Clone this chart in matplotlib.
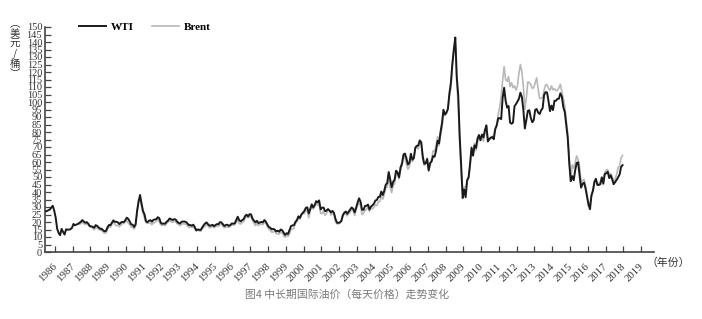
import numpy as np
import pandas as pd
import matplotlib
matplotlib.use('Agg')
import matplotlib.pyplot as plt
from matplotlib.transforms import ScaledTranslation

plt.rcParams['font.family'] = ['Liberation Serif', 'Noto Sans CJK SC']

# monthly prices, USD/barrel
wti_start = '1985-06'
wti = [
    27.1, 27.3, 27.8, 28.3, 29.6, 30.8, 27.6,
    22.9, 15.5, 12.6, 11.2, 15.4, 13.4, 11.6, 15.1, 14.9, 14.9, 15.2, 16.1,
    18.7, 17.8, 18.3, 18.7, 19.4, 20.1, 21.3, 20.3, 19.5, 19.9, 18.9, 17.3,
    17.1, 16.8, 16.2, 17.9, 17.4, 16.5, 15.5, 15.5, 14.5, 13.8, 14.1, 16.4,
    18.0, 17.9, 19.5, 21.1, 20.1, 20.1, 19.8, 18.6, 19.6, 20.1, 19.9, 21.1,
    22.9, 22.1, 20.4, 18.4, 18.2, 16.7, 18.5, 27.3, 33.5, 38.0, 32.3, 27.3,
    25.2, 20.5, 19.9, 20.8, 21.2, 20.2, 21.4, 21.7, 21.9, 23.2, 22.5, 19.5,
    18.8, 19.0, 18.9, 20.2, 21.0, 22.4, 21.8, 21.3, 21.9, 21.7, 20.3, 19.4,
    19.0, 20.1, 20.3, 20.3, 20.0, 19.1, 17.9, 18.0, 17.5, 18.2, 16.6, 14.5,
    15.0, 14.8, 14.7, 16.4, 17.9, 19.1, 19.7, 18.4, 17.5, 17.7, 18.1, 17.2,
    18.0, 18.6, 18.5, 19.9, 19.7, 18.5, 17.3, 18.0, 18.2, 17.4, 18.0, 19.0,
    18.9, 19.1, 21.3, 23.5, 21.2, 20.4, 21.3, 21.9, 24.0, 24.9, 23.7, 25.2,
    25.1, 22.2, 21.0, 19.7, 20.8, 19.3, 19.7, 20.0, 19.8, 21.3, 20.2, 18.3,
    16.7, 16.1, 15.1, 15.4, 14.9, 13.7, 14.2, 13.5, 15.0, 14.5, 13.0, 11.4,
    12.5, 12.0, 14.7, 17.3, 17.7, 17.9, 20.1, 21.3, 23.8, 22.7, 25.0, 26.1,
    27.3, 29.4, 29.8, 25.7, 28.8, 31.8, 29.7, 31.3, 33.9, 33.1, 34.4, 28.4,
    29.6, 29.6, 27.3, 27.5, 28.6, 27.6, 26.4, 27.4, 26.2, 22.2, 19.6, 19.4,
    19.7, 20.7, 24.5, 26.2, 27.0, 25.5, 27.0, 28.4, 29.7, 28.8, 26.4, 29.5,
    33.0, 35.8, 33.5, 28.2, 28.1, 30.7, 30.8, 31.6, 28.3, 30.3, 31.1, 32.1,
    34.3, 34.7, 36.7, 36.8, 40.3, 38.0, 40.8, 44.9, 45.9, 53.3, 48.5, 43.2,
    46.8, 48.2, 54.2, 53.0, 49.8, 56.4, 59.0, 65.0, 65.6, 62.3, 58.3, 59.4,
    65.5, 61.6, 62.7, 69.4, 70.8, 71.0, 74.4, 73.0, 63.8, 58.9, 59.1, 62.0,
    54.5, 59.3, 60.4, 64.0, 63.5, 67.5, 74.1, 72.4, 79.9, 85.8, 94.8, 91.7,
    93.0, 95.4, 105.5, 112.6, 125.4, 135.0, 143.0, 116.7, 104.1, 76.6, 57.3, 36.0,
    41.7, 36.5, 47.9, 49.7, 59.0, 69.6, 64.2, 71.1, 69.4, 75.7, 78.0, 74.5,
    78.3, 76.4, 81.2, 84.3, 73.7, 75.3, 76.3, 76.6, 75.2, 81.9, 84.3, 89.2,
    89.2, 88.6, 102.9, 109.5, 100.9, 96.3, 97.3, 86.3, 85.5, 86.3, 97.2, 98.6,
    100.3, 102.2, 106.2, 103.3, 94.7, 82.3, 87.9, 94.1, 94.5, 89.5, 86.5, 87.9,
    94.8, 95.3, 92.9, 92.0, 94.5, 95.8, 104.7, 106.6, 106.3, 100.5, 93.9, 97.6,
    94.6, 100.8, 100.8, 102.1, 102.2, 105.8, 103.6, 96.5, 93.2, 84.4, 75.8, 59.3,
    47.2, 50.6, 47.8, 54.5, 59.3, 59.8, 50.9, 42.9, 45.5, 46.2, 42.4, 37.2,
    31.7, 28.5, 37.6, 40.8, 46.7, 48.8, 44.7, 44.7, 45.2, 49.8, 45.7, 52.0,
    52.5, 53.5, 49.3, 51.1, 48.5, 45.2, 46.6, 48.0, 49.8, 51.6, 56.6, 57.9,
]

brent_start = '1987-05'
brent = [
    18.6, 18.9, 19.9, 19.0, 18.3, 18.8, 18.3, 16.8,
    16.8, 15.8, 14.9, 16.2, 16.0, 15.2, 14.6, 14.7, 13.4, 12.5, 12.8, 15.1,
    17.0, 16.5, 18.4, 20.3, 18.5, 17.5, 17.9, 16.9, 17.9, 19.1, 18.9, 20.0,
    20.9, 19.2, 18.3, 16.6, 16.5, 15.4, 17.2, 26.4, 35.0, 36.0, 30.8, 25.8,
    22.8, 19.5, 19.1, 19.2, 19.2, 18.2, 19.5, 19.6, 20.6, 21.9, 20.2, 18.1,
    17.7, 17.9, 17.7, 19.2, 20.0, 21.2, 20.1, 19.8, 20.3, 20.2, 19.0, 18.4,
    17.5, 18.5, 18.8, 18.7, 18.5, 17.5, 16.4, 16.9, 16.3, 16.8, 15.2, 13.8,
    15.1, 14.1, 13.8, 15.6, 16.4, 17.3, 18.3, 17.3, 16.1, 16.6, 17.3, 16.2,
    16.9, 17.2, 17.1, 18.5, 18.2, 17.1, 16.2, 16.5, 16.7, 16.4, 17.1, 18.0,
    18.0, 18.2, 19.9, 21.0, 18.9, 18.7, 19.6, 20.2, 22.7, 23.7, 22.8, 23.5,
    23.6, 20.8, 19.1, 17.6, 19.0, 17.6, 18.5, 18.6, 18.2, 20.1, 19.2, 17.1,
    15.3, 14.5, 13.2, 13.3, 14.3, 12.2, 12.1, 11.9, 13.3, 12.7, 11.0, 9.8,
    11.1, 10.3, 12.5, 15.3, 15.2, 15.9, 19.1, 20.2, 22.5, 22.0, 24.6, 25.5,
    25.5, 27.8, 27.5, 22.8, 27.7, 29.8, 28.7, 30.2, 33.1, 31.0, 32.6, 25.7,
    25.6, 27.5, 24.5, 25.7, 28.3, 27.9, 24.6, 25.7, 25.6, 20.5, 18.8, 18.7,
    19.4, 20.3, 23.7, 25.7, 25.4, 24.1, 25.7, 26.7, 28.4, 27.5, 24.3, 28.3,
    31.2, 32.8, 30.6, 25.0, 25.9, 27.7, 28.4, 29.9, 27.1, 29.6, 28.8, 29.8,
    31.3, 30.9, 33.6, 33.6, 37.6, 35.2, 38.2, 42.7, 43.2, 49.8, 43.1, 39.6,
    44.5, 45.5, 53.1, 51.9, 48.7, 54.4, 57.5, 64.0, 62.9, 58.5, 55.2, 56.9,
    63.0, 60.2, 62.1, 70.3, 69.8, 68.6, 73.7, 73.2, 62.0, 57.8, 58.8, 62.5,
    53.7, 57.6, 62.1, 67.5, 67.2, 71.1, 76.9, 70.8, 77.2, 82.3, 92.4, 90.9,
    92.2, 95.0, 103.6, 109.1, 122.8, 133.0, 140.0, 113.2, 97.2, 71.6, 52.5, 38.0,
    43.4, 43.3, 46.5, 50.2, 57.3, 68.6, 64.4, 72.5, 67.7, 72.8, 76.7, 74.5,
    76.2, 73.8, 78.8, 84.8, 76.0, 74.8, 75.6, 77.0, 77.8, 82.7, 85.3, 91.5,
    96.5, 103.7, 114.6, 123.5, 115.0, 113.8, 117.0, 110.2, 112.8, 109.6, 110.8, 107.9,
    110.7, 119.3, 125.0, 119.8, 110.3, 95.2, 102.6, 113.4, 112.9, 111.7, 109.1, 109.5,
    113.0, 116.1, 108.5, 102.3, 102.6, 102.9, 107.9, 111.3, 111.6, 109.1, 107.8, 110.8,
    108.1, 108.9, 107.5, 107.8, 109.5, 111.8, 106.8, 101.6, 97.1, 87.4, 79.4, 62.3,
    47.8, 58.1, 55.9, 59.5, 64.1, 61.5, 56.6, 46.5, 47.6, 48.4, 44.3, 38.0,
    30.7, 32.2, 38.2, 41.6, 46.7, 48.3, 45.0, 45.8, 46.6, 49.5, 44.7, 53.3,
    54.6, 54.9, 51.6, 52.3, 50.3, 46.4, 48.5, 51.7, 56.2, 57.5, 62.7, 64.4,
]

years = list(range(1986, 2020))
yticks = list(range(0, 151, 5))


def decimal_year(start, n):
    d = pd.date_range(start, periods=n, freq='MS')
    return d.year + (d.month - 0.5) / 12.0


wti_x = decimal_year(wti_start, len(wti))
brent_x = decimal_year(brent_start, len(brent))

fig = plt.figure(figsize=(7.02, 3.19), dpi=100)
ax = fig.add_axes([45 / 702, 1 - 252 / 319, 609 / 702, 225 / 319])

ax.plot(brent_x, brent, color='#b8b8b8', lw=1.2, label='Brent', zorder=2)
ax.plot(wti_x, wti, color='#1a1a1a', lw=1.4, label='WTI', zorder=3)

ax.set_xlim(1985.44, 2019.73)
ax.set_ylim(0, 150)
ax.set_xticks(years)
ax.set_xticklabels([str(y) for y in years], rotation=45, ha='right', va='top',
                   fontsize=7.8, color='#333333')
ax.set_yticks(yticks)
ax.set_yticklabels([str(v) for v in yticks], fontsize=7.5, color='#333333')
ax.tick_params(axis='both', direction='in', length=4, width=0.9, color='#444444')
ax.tick_params(axis='x', pad=7)
ax.tick_params(axis='y', pad=2)
shift = ScaledTranslation(4 / 100, 0, fig.dpi_scale_trans)
for lab in ax.get_xticklabels():
    lab.set_transform(lab.get_transform() + shift)

for s in ['top', 'right']:
    ax.spines[s].set_visible(False)
for s in ['left', 'bottom']:
    ax.spines[s].set_color('#444444')
    ax.spines[s].set_linewidth(1.2)

handles, labels = ax.get_legend_handles_labels()
leg = fig.legend(handles[::-1], labels[::-1], ncol=2, frameon=False,
                 loc='center left', bbox_to_anchor=(69 / 702, 1 - 27 / 319),
                 handlelength=2.4, columnspacing=1.6, handletextpad=0.5,
                 prop={'family': 'Liberation Serif', 'size': 8, 'weight': 'bold'})

cjk = ['Noto Sans CJK SC', 'DejaVu Sans']
fig.text(15 / 702, 1 - 49 / 319, '︵\n美\n元\n/\n桶\n︶', ha='center', va='center',
         fontsize=7.5, linespacing=1.0, family=cjk, color='#333333')
fig.text(647 / 702, 1 - 263 / 319, '（年份）', ha='left', va='center',
         fontsize=7.8, family=cjk, color='#333333')
fig.text(347 / 702, 1 - 295 / 319, '图4 中长期国际油价（每天价格）走势变化', ha='center', va='center',
         fontsize=7.8, family=cjk, color='#7a7a7a')

fig.savefig('out.png', dpi=100)
